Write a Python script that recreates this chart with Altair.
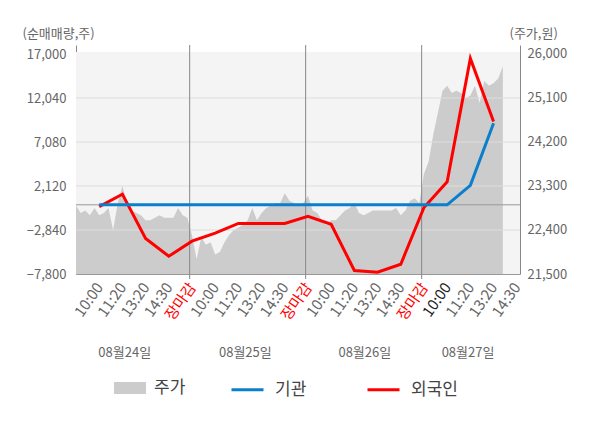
import json
import numpy as np
import pandas as pd
import altair as alt

FONT = "Noto Sans CJK KR"

# ---- data -------------------------------------------------------------
time_labels = ["10:00", "11:20", "13:20", "14:30", "장마감",
               "10:00", "11:20", "13:20", "14:30", "장마감",
               "10:00", "11:20", "13:20", "14:30", "장마감",
               "10:00", "11:20", "13:20", "14:30"]
day_labels = ["08월24일", "08월25일", "08월26일", "08월27일"]
day_label_at = [2.1, 7.3, 12.45, 16.9]
day_breaks = [4.9, 9.9, 14.9]

line_at = [1, 2, 3, 4, 5, 6, 7, 8, 9, 10, 11, 12, 13, 14, 15, 16, 17, 18]
inst = [0, 0, 0, 0, 0, 0, 0, 0, 0, 0, 0, 0, 0, 0, 0, 0, 2200, 9200]
foreign = [-200, 1200, -3800, -5800, -4100, -3200, -2100, -2100, -2100,
           -1300, -2200, -7400, -7600, -6700, -300, 2600, 16500, 9400]

price_step = 0.2
price = [
    # 08/24
    22900, 22750, 22800, 22700, 22850, 22700, 22750, 22850, 22400, 22950,
    23300, 22950, 22800, 22750, 22700, 22600, 22600, 22650, 22700, 22650,
    22650, 22650, 22850, 22700, 22650,
    # 08/25
    22300, 21800, 22250, 22100, 22150, 21900, 21950, 22150, 22300, 22400,
    22450, 22500, 22600, 22850, 22600, 22750, 22850, 22900, 22950, 22950,
    23150, 23000, 22950, 22900, 22950,
    # 08/26
    23100, 22800, 22750, 22600, 22500, 22600, 22600, 22700, 22800, 22850,
    22950, 22750, 22700, 22750, 22800, 22800, 22800, 22800, 22800, 22850,
    22700, 22800, 23000, 23050, 22950,
    # 08/27
    23550, 23800, 24350, 24800, 25250, 25350, 25200, 25250, 25200, 25100,
    25150, 25350, 25000, 25450, 25350, 25400, 25500, 25750,
]

left_ticks = [17000, 12040, 7080, 2120, -2840, -7800]
right_ticks = [26000, 25100, 24200, 23300, 22400, 21500]

# ---- tables ------------------------------------------------------------
price_df = pd.DataFrame({"t": np.arange(len(price)) * price_step,
                         "price": price, "s": "주가"})
lines_df = pd.DataFrame({
    "t": line_at * 2,
    "v": inst + foreign,
    "series": ["기관"] * len(inst) + ["외국인"] * len(foreign),
})
grid_df = pd.DataFrame({"g": left_ticks[1:-1]})
break_df = pd.DataFrame({"t": day_breaks})
day_df = pd.DataFrame({"t": day_label_at, "label": day_labels})
one_df = pd.DataFrame({"a": [0]})

PLOT_W = 444
PLOT_H = 229

xscale = alt.Scale(domain=[0, 19.14], nice=False, zero=False)
label_arr = json.dumps(time_labels, ensure_ascii=False)
xaxis = alt.Axis(
    values=list(range(1, 20)),
    labelExpr=f"{label_arr}[datum.value - 1]",
    labelAngle=-55, labelAlign="right", labelBaseline="middle",
    labelPadding=10, ticks=False, grid=False, domainColor="#999999",
    labelFontSize=15, labelFont=FONT, labelOverlap=False, labelFlush=False,
    labelColor={"condition": [{"test": "datum.value % 5 == 0", "value": "#ff0000"},
                              {"test": "datum.value == 16", "value": "#222222"}],
                "value": "#666666"},
    title=None,
)


def X(field):
    return alt.X(f"{field}:Q", scale=xscale, axis=xaxis, title=None)


lscale = alt.Scale(domain=[-7800, 18015], nice=False, zero=False)
rscale = alt.Scale(domain=[21500, 26184], nice=False, zero=False)

laxis = alt.Axis(values=left_ticks, format=",.0f", grid=False, ticks=False,
                 labelPadding=10, domainColor="#888888", labelColor="#666666",
                 labelFontSize=13, labelFont=FONT, orient="left",
                 title="(순매매량,주)", titleAngle=0, titleX=-54, titleY=-12,
                 titleAlign="left", titleBaseline="middle", titleFontWeight="normal",
                 titleColor="#666666", titleFontSize=13, titleFont=FONT)
raxis = alt.Axis(values=right_ticks, format=",.0f", grid=False, ticks=False,
                 labelPadding=7, domainColor="#888888", labelColor="#666666",
                 labelFontSize=13, labelFont=FONT, orient="right",
                 title="(주가,원)", titleAngle=0, titleX=-11, titleY=-12,
                 titleAlign="left", titleBaseline="middle", titleFontWeight="normal",
                 titleColor="#666666", titleFontSize=13, titleFont=FONT)

# ---- price group (right axis) -------------------------------------------
bg = alt.Chart(one_df).mark_rect(color="#f4f4f4").encode(
    x=alt.value(0), x2=alt.value(PLOT_W), y=alt.value(7), y2=alt.value(PLOT_H)
)
area = alt.Chart(price_df).mark_area(opacity=1, clip=True).encode(
    x=X("t"),
    y=alt.Y("price:Q", scale=rscale, axis=raxis),
    y2=alt.datum(21500),
    fill=alt.Fill("s:N", scale=alt.Scale(domain=["주가"], range=["#cccccc"]),
                  legend=alt.Legend(orient="none", legendX=38, legendY=327,
                                    title=None, padding=0,
                                    symbolType="M-1,-0.375H1V0.375H-1Z",
                                    symbolSize=1024, symbolStrokeWidth=0,
                                    symbolOpacity=1,
                                    labelFontSize=17, labelFont=FONT,
                                    labelColor="#444444", labelOffset=8)),
)
price_group = alt.layer(bg, area)

# ---- flow group (left axis) ---------------------------------------------
grid = alt.Chart(grid_df).mark_rule(color="#dddddd", strokeWidth=1).encode(
    y=alt.Y("g:Q", scale=lscale, axis=laxis)
)
zero = alt.Chart(one_df).mark_rule(color="#999999", strokeWidth=1).encode(
    y=alt.datum(0)
)
breaks = alt.Chart(break_df).mark_rule(color="#888888", strokeWidth=1).encode(
    x=X("t"), y=alt.value(0), y2=alt.value(PLOT_H + 5)
)

stroke_def = alt.Stroke(
    "series:N",
    scale=alt.Scale(domain=["기관", "외국인"], range=["#0a7fcc", "#ff0000"]),
    legend=alt.Legend(orient="none", legendX=154, legendY=327, title=None,
                      direction="horizontal", padding=0, columnPadding=54,
                      symbolType="stroke", symbolSize=1024, symbolStrokeWidth=3,
                      labelFontSize=17, labelFont=FONT, labelColor="#444444",
                      labelOffset=10),
)
red = alt.Chart(lines_df).transform_filter("datum.series == '외국인'").mark_line(
    strokeWidth=3).encode(x=X("t"), y=alt.Y("v:Q", scale=lscale, axis=laxis),
                          stroke=stroke_def)
blue = alt.Chart(lines_df).transform_filter("datum.series == '기관'").mark_line(
    strokeWidth=3).encode(x=X("t"), y=alt.Y("v:Q", scale=lscale, axis=laxis),
                          stroke=stroke_def)
days = alt.Chart(day_df).mark_text(font=FONT, fontSize=13, color="#666666",
                                   baseline="middle").encode(
    x=X("t"), y=alt.value(308), text="label:N"
)
flow_group = alt.layer(grid, zero, breaks, red, blue, days)

chart = alt.layer(price_group, flow_group).resolve_scale(
    y="independent"
).properties(
    width=PLOT_W, height=PLOT_H,
    padding={"left": 68, "top": 37, "right": 72, "bottom": 146},
    autosize=alt.AutoSizeParams(type="none"),
    background="white",
).configure_view(stroke=None).configure_text(font=FONT)

chart.save("out.html", embed_options={"renderer": "svg", "actions": False})
